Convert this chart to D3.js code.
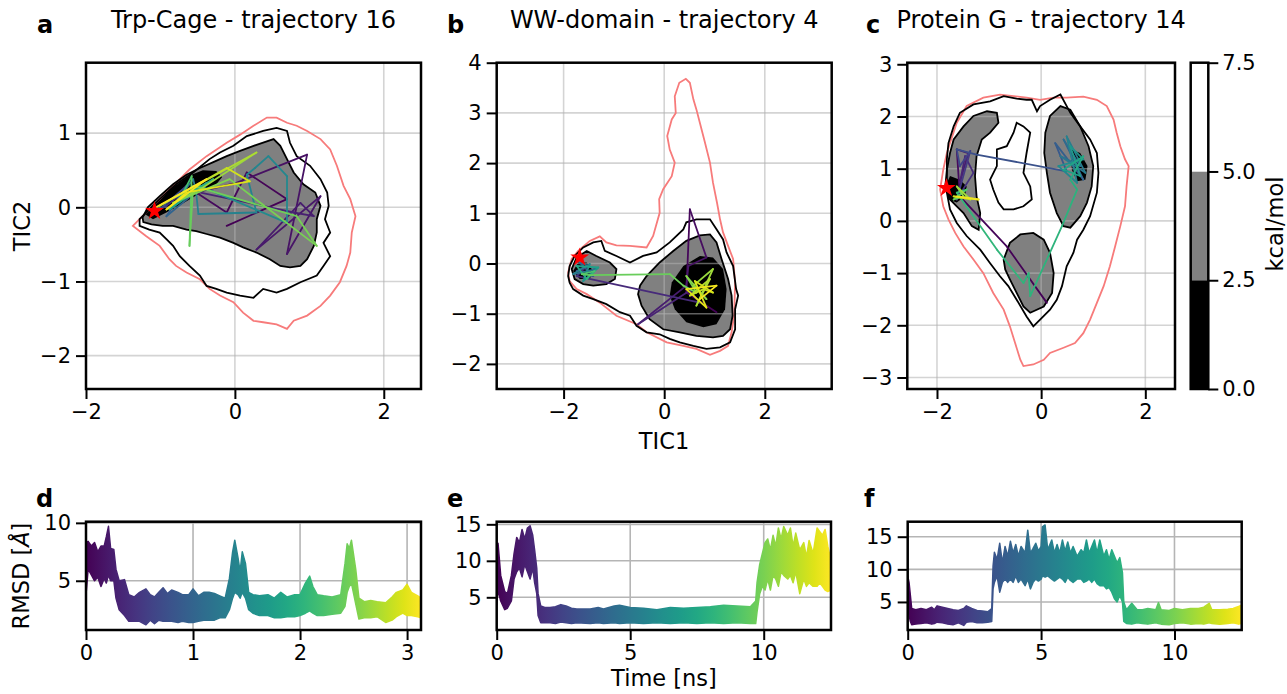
<!DOCTYPE html>
<html>
<head>
<meta charset="utf-8">
<script src="https://cdn.jsdelivr.net/npm/d3@7"></script>
<style>
  body { margin: 0; background: #fff; }
  svg { display: block; }
</style>
</head>
<body>
<svg id="fig" width="1287" height="694"></svg>
<script>
// ---------- free energy maps: contour outlines in TIC coordinates ----------
// Trp-Cage
const trpPink = [[-1.37,-0.25],[-1.24,-0.12],[-1.06,0.06],[-0.83,0.29],[-0.61,0.51],[-0.38,0.69],[-0.11,0.87],[0.07,0.98],[0.25,1.10],[0.43,1.21],[0.56,1.21],[0.70,1.14],[0.83,1.10],[0.97,1.03],[1.15,0.92],[1.28,0.78],[1.37,0.56],[1.46,0.29],[1.55,0.11],[1.62,-0.12],[1.57,-0.34],[1.55,-0.61],[1.50,-0.79],[1.41,-1.01],[1.28,-1.19],[1.15,-1.33],[0.97,-1.46],[0.79,-1.53],[0.70,-1.64],[0.56,-1.58],[0.38,-1.55],[0.25,-1.53],[0.11,-1.42],[-0.02,-1.28],[-0.20,-1.19],[-0.34,-1.10],[-0.47,-0.97],[-0.65,-0.88],[-0.79,-0.79],[-0.88,-0.70],[-1.01,-0.52],[-1.19,-0.39]];
const trpOuter = [[-1.28,-0.16],[-1.19,-0.07],[-1.01,0.11],[-0.79,0.31],[-0.56,0.47],[-0.34,0.65],[-0.20,0.74],[-0.02,0.83],[0.16,0.96],[0.38,1.03],[0.56,1.07],[0.70,1.03],[0.74,0.87],[0.83,0.69],[1.01,0.56],[1.15,0.38],[1.24,0.20],[1.26,0.02],[1.21,-0.16],[1.28,-0.34],[1.19,-0.48],[1.28,-0.66],[1.19,-0.79],[1.10,-0.92],[0.88,-1.01],[0.70,-1.10],[0.56,-1.15],[0.38,-1.10],[0.25,-1.22],[0.07,-1.19],[-0.11,-1.15],[-0.25,-1.10],[-0.38,-1.06],[-0.47,-0.92],[-0.61,-0.79],[-0.74,-0.66],[-0.83,-0.52],[-0.92,-0.43],[-1.01,-0.34],[-1.15,-0.30],[-1.28,-0.25]];
const trpGray = [[-1.24,-0.14],[-1.17,0.00],[-1.01,0.15],[-0.83,0.31],[-0.65,0.44],[-0.47,0.53],[-0.29,0.61],[-0.11,0.69],[0.07,0.76],[0.34,0.86],[0.52,0.92],[0.61,0.83],[0.70,0.65],[0.79,0.47],[0.92,0.31],[1.08,0.20],[1.15,0.02],[1.10,-0.16],[1.10,-0.34],[1.06,-0.52],[0.97,-0.70],[0.88,-0.79],[0.74,-0.81],[0.61,-0.79],[0.47,-0.70],[0.29,-0.61],[0.11,-0.54],[-0.02,-0.48],[-0.20,-0.41],[-0.38,-0.36],[-0.52,-0.32],[-0.65,-0.30],[-0.83,-0.25],[-0.97,-0.25],[-1.12,-0.23],[-1.23,-0.20]];
const trpBlack = [[-1.21,-0.09],[-1.06,0.05],[-0.83,0.27],[-0.61,0.43],[-0.43,0.50],[-0.25,0.49],[-0.17,0.41],[-0.25,0.31],[-0.47,0.19],[-0.70,0.05],[-0.92,-0.07],[-1.10,-0.16]];
// trajectory: [TIC1, TIC2, time ns]
const trpPath = [[-0.11,-0.25,0],[0.70,0.11,0.02],[0.16,0.47,0.05],[-0.11,-0.07,0.07],[-0.52,0.20,0.09],[0.02,0.33,0.11],[0.97,0.71,0.14],[0.70,-0.63,0.16],[1.15,0.15,0.19],[0.29,-0.57,0.21],[0.88,0.06,0.24],[1.06,-0.12,0.26],[0.79,-0.07,0.28],[-0.65,0.24,0.35],[-0.92,0.02,0.5],[-1.01,-0.03,0.65],[-0.65,0.29,0.8],[-0.92,-0.12,0.95],[-0.38,0.33,1.05],[-0.83,0.02,1.15],[-0.56,0.38,1.25],[-0.52,0.20,1.33],[-0.49,-0.09,1.36],[0.29,-0.07,1.38],[0.16,0.44,1.40],[0.27,0.53,1.42],[0.45,0.69,1.44],[0.70,0.42,1.46],[0.70,-0.21,1.48],[-0.47,0.29,1.52],[-0.88,-0.03,1.7],[-0.29,0.38,1.9],[-0.74,0.11,2.1],[-0.58,0.42,2.3],[-0.61,-0.52,2.4],[-0.56,0.29,2.43],[0.83,-0.12,2.46],[1.10,-0.52,2.48],[-0.07,0.38,2.5],[-0.83,0.06,2.55],[-0.47,0.24,2.62],[0.29,0.74,2.7],[-1.01,0.02,2.78],[-0.11,0.53,2.86],[0.20,0.35,2.94],[-0.65,0.20,3.0],[-0.92,-0.03,3.05],[-0.38,0.38,3.1],[-1.06,0.00,3.13]];
const trpStar = [-1.08,-0.05];

// WW-domain
const wwPink = [[-1.91,-0.18],[-1.84,0.09],[-1.71,0.25],[-1.48,0.45],[-1.28,0.54],[-1.15,0.42],[-0.95,0.36],[-0.68,0.35],[-0.35,0.32],[-0.22,0.55],[-0.09,1.01],[-0.10,1.28],[-0.02,1.48],[0.15,1.74],[0.21,2.01],[0.11,2.27],[0.06,2.54],[0.15,2.87],[0.23,3.00],[0.21,3.33],[0.30,3.60],[0.43,3.68],[0.51,3.60],[0.58,3.27],[0.64,3.07],[0.71,2.80],[0.81,2.41],[0.91,2.01],[0.97,1.61],[1.05,1.21],[1.11,0.88],[1.17,0.62],[1.27,0.35],[1.37,0.09],[1.41,-0.38],[1.39,-1.04],[1.34,-1.37],[1.27,-1.64],[1.11,-1.74],[0.91,-1.82],[0.64,-1.70],[0.38,-1.64],[0.05,-1.57],[-0.35,-1.37],[-0.55,-1.21],[-0.95,-1.04],[-1.28,-0.78],[-1.54,-0.61],[-1.74,-0.51],[-1.88,-0.35]];
const wwOuter = [[-1.91,-0.25],[-1.88,-0.05],[-1.78,0.15],[-1.61,0.32],[-1.41,0.42],[-1.25,0.45],[-1.18,0.25],[-0.95,0.15],[-0.68,0.02],[-0.42,0.15],[-0.15,0.22],[0.11,0.42],[0.38,0.68],[0.44,0.82],[0.64,0.88],[0.91,0.88],[1.04,0.68],[1.17,0.48],[1.24,0.22],[1.37,-0.05],[1.43,-0.51],[1.47,-0.64],[1.41,-0.91],[1.41,-1.31],[1.31,-1.57],[1.11,-1.67],[0.84,-1.70],[0.58,-1.64],[0.31,-1.57],[0.11,-1.50],[-0.09,-1.41],[-0.35,-1.37],[-0.55,-1.24],[-0.68,-1.04],[-0.88,-0.97],[-1.15,-0.81],[-1.41,-0.71],[-1.61,-0.64],[-1.81,-0.51],[-1.88,-0.38]];
const wwGrayLeft = [[-1.84,-0.11],[-1.74,0.12],[-1.54,0.25],[-1.35,0.15],[-1.08,0.02],[-0.95,-0.11],[-0.98,-0.31],[-1.15,-0.41],[-1.41,-0.44],[-1.61,-0.41],[-1.78,-0.31]];
const wwGrayRight = [[-0.48,-0.44],[-0.35,-0.25],[-0.09,0.02],[0.18,0.25],[0.44,0.45],[0.71,0.56],[0.91,0.58],[1.04,0.42],[1.14,0.09],[1.27,-0.31],[1.34,-0.64],[1.36,-1.04],[1.31,-1.31],[1.17,-1.44],[0.97,-1.47],[0.64,-1.44],[0.31,-1.37],[-0.02,-1.31],[-0.29,-1.11],[-0.45,-0.84],[-0.52,-0.61]];
const wwBlackLeft = [[-1.81,-0.15],[-1.71,0.02],[-1.54,0.02],[-1.41,-0.15],[-1.48,-0.31],[-1.68,-0.31]];
const wwBlackRight = [[0.15,-0.38],[0.38,-0.05],[0.71,0.15],[0.97,0.12],[1.17,-0.11],[1.24,-0.51],[1.21,-0.91],[1.04,-1.21],[0.78,-1.27],[0.44,-1.17],[0.21,-0.91],[0.11,-0.64]];
const wwPath = [[1.04,-0.97,0],[0.44,-0.58,0.15],[0.51,1.08,0.3],[0.84,0.12,0.5],[0.48,-0.05,0.7],[0.44,-0.44,0.9],[-0.52,-1.21,1.1],[0.51,-0.54,1.3],[0.71,-0.78,1.45],[-1.74,-0.25,1.55],[-1.54,-0.05,2.0],[-1.74,-0.15,2.6],[-1.41,-0.25,3.2],[-1.68,0.02,3.8],[-1.35,-0.11,4.4],[-1.81,-0.21,5.0],[-1.48,-0.01,5.6],[-1.61,-0.35,6.2],[-1.31,-0.08,6.8],[-1.74,-0.05,7.4],[-1.54,-0.31,8.0],[-1.38,-0.15,8.6],[-1.64,-0.21,9.2],[-1.48,-0.23,9.6],[0.11,-0.21,9.7],[0.38,-0.44,9.75],[0.64,-0.58,9.9],[0.44,-0.25,10.1],[0.84,-0.71,10.3],[0.58,-0.44,10.5],[0.97,-0.11,10.65],[0.64,-0.84,10.85],[0.91,-0.31,11.0],[0.51,-0.64,11.2],[0.78,-0.51,11.4],[0.97,-0.58,11.55],[0.61,-0.35,11.75],[0.84,-0.88,11.9],[0.44,-0.51,12.1],[1.04,-0.44,12.3],[0.71,-0.71,12.5]];
const wwStar = [-1.68,0.12];

// Protein G
const pgPink = [[-1.75,1.49],[-1.62,1.88],[-1.43,2.20],[-1.11,2.36],[-0.79,2.42],[-0.53,2.39],[-0.28,2.36],[-0.02,2.32],[0.24,2.36],[0.49,2.36],[0.81,2.38],[1.07,2.32],[1.26,2.20],[1.39,1.94],[1.45,1.69],[1.52,1.43],[1.61,1.18],[1.68,1.05],[1.64,0.66],[1.61,0.28],[1.52,-0.10],[1.42,-0.49],[1.32,-0.87],[1.20,-1.25],[1.07,-1.57],[0.94,-1.89],[0.81,-2.15],[0.65,-2.34],[0.43,-2.43],[0.17,-2.53],[0.05,-2.66],[-0.15,-2.75],[-0.34,-2.78],[-0.40,-2.66],[-0.50,-2.34],[-0.60,-2.02],[-0.72,-1.70],[-0.92,-1.38],[-1.11,-1.00],[-1.30,-0.74],[-1.49,-0.49],[-1.65,-0.23],[-1.78,0.03],[-1.88,0.28],[-1.94,0.60],[-1.88,0.98],[-1.81,1.30]];
const pgOuter = [[-1.81,1.18],[-1.78,1.49],[-1.68,1.81],[-1.56,2.07],[-1.30,2.23],[-0.98,2.29],[-0.72,2.39],[-0.47,2.34],[-0.28,2.32],[-0.18,2.32],[-0.08,2.10],[-0.02,2.20],[0.17,2.32],[0.37,2.42],[0.56,2.07],[0.75,1.81],[0.94,1.56],[1.07,1.30],[1.10,0.92],[1.07,0.54],[0.94,0.09],[0.81,-0.17],[0.69,-0.36],[0.62,-0.61],[0.49,-0.87],[0.40,-1.25],[0.30,-1.51],[0.17,-1.70],[-0.02,-1.89],[-0.15,-2.02],[-0.28,-1.83],[-0.47,-1.51],[-0.63,-1.25],[-0.79,-1.06],[-0.98,-0.81],[-1.17,-0.55],[-1.43,-0.29],[-1.62,-0.04],[-1.75,0.22],[-1.81,0.54]];
const pgHole = [[-0.92,0.60],[-0.98,0.79],[-0.85,1.05],[-0.85,1.37],[-0.66,1.43],[-0.53,1.69],[-0.47,1.88],[-0.34,1.81],[-0.21,1.69],[-0.28,1.30],[-0.34,0.92],[-0.21,0.66],[-0.18,0.41],[-0.34,0.28],[-0.53,0.22],[-0.72,0.22],[-0.82,0.35]];
const pgGrayLeft = [[-1.75,1.30],[-1.68,1.56],[-1.49,1.81],[-1.30,2.01],[-1.04,2.10],[-0.85,2.07],[-0.82,1.88],[-0.98,1.69],[-1.14,1.56],[-1.24,1.24],[-1.27,0.86],[-1.24,0.47],[-1.17,0.15],[-1.20,-0.17],[-1.33,-0.10],[-1.49,0.15],[-1.62,0.28],[-1.75,0.41],[-1.84,0.66],[-1.81,0.98]];
const pgGrayRight = [[0.08,1.69],[0.17,2.01],[0.37,2.20],[0.56,2.13],[0.75,1.81],[0.91,1.43],[1.00,1.05],[0.97,0.66],[0.88,0.35],[0.75,0.09],[0.56,-0.13],[0.43,-0.10],[0.30,0.15],[0.17,0.54],[0.11,0.92],[0.06,1.30]];
const pgGrayBottom = [[-0.72,-0.74],[-0.60,-0.42],[-0.40,-0.26],[-0.15,-0.23],[0.05,-0.36],[0.17,-0.61],[0.24,-1.00],[0.21,-1.38],[0.05,-1.64],[-0.21,-1.76],[-0.34,-1.64],[-0.47,-1.38],[-0.60,-1.12],[-0.69,-0.93]];
const pgBlackLeft = [[-1.84,0.66],[-1.75,0.86],[-1.56,0.79],[-1.43,0.66],[-1.46,0.47],[-1.62,0.35],[-1.78,0.41]];
const pgBlackRight = [[0.56,1.37],[0.75,1.30],[0.89,1.05],[0.85,0.79],[0.69,0.76],[0.59,0.98]];
const pgPath = [[0.11,-1.57,0],[-0.66,-0.49,0.1],[-1.56,0.47,0.2],[-1.62,1.37,0.5],[-1.40,1.30,0.8],[-1.56,0.73,1.1],[-1.46,1.24,1.4],[-1.30,0.92,1.7],[-1.62,0.41,2.0],[-1.36,1.34,2.3],[-1.56,1.05,2.6],[-1.62,1.37,2.9],[-1.24,1.27,3.1],[0.49,0.95,3.25],[0.27,1.49,3.6],[0.81,0.79,3.9],[0.43,1.56,4.2],[0.75,1.05,4.5],[0.37,1.24,4.8],[0.85,0.92,5.1],[0.49,1.62,5.4],[0.69,0.73,5.7],[0.33,1.05,6.0],[0.81,1.18,6.3],[0.56,1.43,6.6],[0.75,0.86,6.9],[0.43,0.98,7.2],[0.81,1.24,7.5],[0.56,0.79,7.8],[0.69,0.60,8.0],[0.40,-0.10,8.05],[-0.21,-1.44,8.1],[-0.24,-1.00,8.12],[-0.34,-1.19,8.15],[-0.85,-0.55,8.2],[-1.62,0.54,8.3],[-1.43,0.60,8.8],[-1.68,0.41,9.4],[-1.49,0.47,10.0],[-1.62,0.66,10.5],[-1.36,0.41,11.0],[-1.68,0.47,11.5],[-1.20,0.41,12.0],[-1.62,0.47,12.5]];
const pgStar = [-1.82,0.63];

// ---------- RMSD time series (upper / lower envelope of the noisy trace) ----------
const trpTime  = [0,0.02,0.05,0.08,0.11,0.14,0.17,0.19,0.21,0.23,0.26,0.28,0.31,0.36,0.40,0.45,0.50,0.56,0.60,0.64,0.68,0.72,0.76,0.80,0.86,0.90,0.96,1.00,1.05,1.10,1.15,1.20,1.25,1.30,1.34,1.37,1.39,1.42,1.44,1.46,1.49,1.52,1.56,1.62,1.70,1.76,1.82,1.88,1.95,2.00,2.05,2.09,2.12,2.16,2.22,2.30,2.38,2.42,2.44,2.46,2.48,2.52,2.55,2.60,2.66,2.72,2.80,2.86,2.90,2.96,3.00,3.04,3.10,3.13];
const trpUpper = [8.3,8.4,8.0,8.3,7.5,8.0,8.0,8.8,9.7,7.8,7.7,6.0,5.0,5.1,3.8,3.6,4.0,4.3,3.8,3.6,4.0,4.4,3.9,4.2,4.0,3.8,3.8,4.3,3.7,4.0,4.0,3.9,3.7,3.5,5.2,7.5,8.5,7.0,5.8,7.5,6.5,4.0,3.8,3.7,3.8,3.5,4.0,3.6,3.8,3.8,4.8,5.4,4.5,3.8,3.7,3.6,3.8,6.5,8.2,7.8,8.5,6.0,3.5,3.2,3.3,3.2,3.1,3.6,4.0,4.2,4.7,4.0,3.7,3.5];
const trpLower = [3.8,6.0,5.5,5.0,5.3,4.5,5.2,4.8,5.5,5.0,5.0,3.5,2.5,2.0,1.5,1.5,1.5,1.2,1.6,1.3,1.6,1.5,1.5,1.5,1.4,1.5,1.4,1.4,1.5,1.6,1.6,1.6,1.8,1.8,2.5,3.5,4.0,3.8,3.5,4.0,3.5,2.5,2.2,2.0,2.0,1.8,1.8,1.9,1.9,2.0,2.2,2.4,2.2,2.0,2.0,2.1,2.2,2.8,4.0,4.5,4.8,3.0,1.7,1.8,1.8,1.9,1.4,1.6,1.9,2.2,2.0,2.0,1.9,1.8];

const wwTime  = [0,0.05,0.15,0.3,0.4,0.55,0.65,0.75,0.85,0.95,1.05,1.15,1.25,1.35,1.42,1.5,1.55,1.65,1.8,2.0,2.2,2.4,2.6,2.8,3.0,3.5,3.8,4.0,4.4,4.6,5.0,5.5,6.0,6.5,7.0,7.5,8.0,8.5,9.0,9.5,9.7,9.75,9.85,9.95,10.05,10.15,10.25,10.35,10.45,10.55,10.65,10.75,10.9,11.0,11.1,11.2,11.35,11.5,11.6,11.7,11.85,12.0,12.1,12.2,12.3,12.4,12.52];
const wwUpper = [12.4,12.4,8.0,5.8,5.5,8.0,11.0,13.2,12.5,14.3,13.0,14.5,14.8,13.5,11.5,9.0,5.5,3.8,3.6,3.6,3.7,4.0,3.8,3.5,3.4,3.4,3.6,3.4,3.8,3.9,3.6,3.5,3.3,3.6,3.5,3.6,3.7,3.9,3.8,3.7,4.5,7.0,9.5,11.0,12.5,13.0,11.5,13.5,12.0,14.5,13.0,14.7,13.5,14.5,12.0,13.8,11.5,12.5,10.5,12.8,11.0,14.5,14.0,13.5,14.3,12.0,10.0];
const wwLower = [4.0,6.0,4.5,3.3,3.5,4.5,7.5,8.5,9.0,7.8,9.5,8.5,7.5,9.0,7.0,5.5,2.5,1.5,1.5,1.5,1.4,1.6,1.5,1.4,1.5,1.4,1.5,1.4,1.5,1.4,1.5,1.4,1.5,1.4,1.5,1.4,1.5,1.4,1.5,1.4,1.4,3.0,5.5,6.5,6.0,7.5,6.0,8.0,7.5,6.5,8.5,8.0,7.5,8.0,7.0,8.5,5.5,7.5,6.5,7.0,6.5,6.5,7.0,6.5,6.0,5.8,6.0];

const pgTime  = [0,0.05,0.1,0.15,0.3,0.5,0.7,0.9,1.0,1.1,1.3,1.5,1.7,1.9,2.1,2.2,2.4,2.6,2.8,3.0,3.15,3.2,3.25,3.35,3.45,3.55,3.65,3.75,3.85,3.95,4.05,4.15,4.25,4.4,4.5,4.6,4.7,4.8,4.9,5.0,5.05,5.15,5.25,5.4,5.5,5.6,5.7,5.8,5.9,6.0,6.1,6.2,6.35,6.5,6.6,6.7,6.8,6.9,7.0,7.1,7.2,7.35,7.45,7.55,7.65,7.75,7.85,7.95,8.05,8.1,8.2,8.4,8.6,8.8,9.0,9.3,9.4,9.5,9.8,10.0,10.3,10.6,10.9,11.1,11.3,11.4,11.7,12.0,12.2,12.4,12.52];
const pgUpper = [9.0,8.0,6.0,4.0,3.8,4.0,3.8,4.2,3.8,4.4,4.2,4.0,3.8,3.7,4.0,4.4,4.0,3.7,3.6,3.5,4.0,10.5,12.6,11.5,14.0,11.0,13.5,12.0,14.3,12.5,13.8,12.0,13.5,12.5,16.0,12.5,13.2,14.0,12.8,13.5,16.5,16.8,13.0,14.5,12.5,13.8,12.5,14.5,12.8,14.2,12.5,13.5,12.0,13.0,12.5,14.5,12.5,13.5,14.5,12.5,14.5,12.0,13.0,11.5,13.0,12.0,11.0,11.8,9.5,5.0,3.8,4.8,3.8,3.8,4.0,3.8,4.9,3.8,3.7,4.0,3.8,4.0,4.0,4.2,4.8,3.8,3.8,3.9,4.0,4.3,4.5];
const pgLower = [5.5,3.0,2.0,1.5,1.6,1.7,1.8,1.6,1.7,1.9,1.8,1.6,1.5,1.8,1.4,1.9,2.0,1.8,1.8,1.9,2.0,7.0,8.0,9.0,6.5,8.0,8.5,8.0,8.5,8.0,9.0,8.0,8.5,7.5,8.5,7.0,8.0,8.5,8.2,8.5,9.0,8.8,9.0,8.5,8.2,8.5,8.8,8.5,8.0,8.8,8.3,8.0,8.5,8.5,8.0,8.2,8.5,8.0,8.5,7.8,7.5,7.5,7.0,7.2,6.5,5.5,5.0,6.0,5.0,2.0,1.7,1.6,1.8,1.7,1.6,1.8,1.7,1.6,1.5,1.7,1.8,1.6,1.7,1.6,1.8,1.7,1.6,1.7,1.8,1.6,1.7];

// ---------- ticks / labels ----------
const trpTicksX = [-2, 0, 2], trpTicksY = [-2, -1, 0, 1];
const wwTicksX = [-2, 0, 2], wwTicksY = [-2, -1, 0, 1, 2, 3, 4];
const pgTicksX = [-2, 0, 2], pgTicksY = [-3, -2, -1, 0, 1, 2, 3];
const cbLevels = [0, 2.5, 5.0, 7.5];
const cbColors = ['#000000', '#808080', '#ffffff'];
const trpTimeTicks = [0, 1, 2, 3], trpRmsdTicks = [5, 10];
const wwTimeTicks = [0, 5, 10], wwRmsdTicks = [5, 10, 15];
const pgTimeTicks = [0, 5, 10], pgRmsdTicks = [5, 10, 15];

const FONT = '"DejaVu Sans", Verdana, sans-serif';
const intFmt = d3.format('d');
const svg = d3.select('#fig');

function styleAxis(g) {
  g.select('.domain').remove();
  g.selectAll('.tick line').attr('stroke', '#000').attr('stroke-width', 2);
  g.selectAll('.tick text').attr('font-size', 21).attr('font-family', FONT).attr('fill', '#000');
}

// ---------- top row: free energy maps ----------
const maps = [
  { id: 'a', title: 'Trp-Cage - trajectory 16', left: 86, right: 421, xd: [-2, 2.5], yd: [-2.45, 1.95],
    tx: trpTicksX, ty: trpTicksY, pink: [trpPink], outer: [trpOuter], gray: [trpGray], black: [trpBlack],
    path: trpPath, star: trpStar, tmax: 3.13 },
  { id: 'b', title: 'WW-domain - trajectory 4', left: 496.7, right: 831.7, xd: [-3.33, 3.33], yd: [-2.5, 4],
    tx: wwTicksX, ty: wwTicksY, pink: [wwPink], outer: [wwOuter], gray: [wwGrayLeft, wwGrayRight], black: [wwBlackLeft, wwBlackRight],
    path: wwPath, star: wwStar, tmax: 12.52 },
  { id: 'c', title: 'Protein G - trajectory 14', left: 907.3, right: 1175, xd: [-2.57, 2.57], yd: [-3.22, 3.03],
    tx: pgTicksX, ty: pgTicksY, pink: [pgPink], outer: [pgOuter, pgHole], gray: [pgGrayLeft, pgGrayRight, pgGrayBottom], black: [pgBlackLeft, pgBlackRight],
    path: pgPath, star: pgStar, tmax: 12.52 }
];
const mapTop = 62.7, mapBottom = 389;

maps.forEach(m => {
  const x = d3.scaleLinear().domain(m.xd).range([m.left, m.right]);
  const y = d3.scaleLinear().domain(m.yd).range([mapBottom, mapTop]);
  const g = svg.append('g');

  svg.append('clipPath').attr('id', 'clip-' + m.id)
    .append('rect').attr('x', m.left).attr('y', mapTop)
    .attr('width', m.right - m.left).attr('height', mapBottom - mapTop);
  const inner = g.append('g').attr('clip-path', `url(#clip-${m.id})`);

  const poly = d3.line().x(d => x(d[0])).y(d => y(d[1])).curve(d3.curveLinearClosed);

  // filled levels
  inner.selectAll('.gray').data(m.gray).join('path')
    .attr('d', poly).attr('fill', '#808080');
  inner.selectAll('.blk').data(m.black).join('path')
    .attr('d', poly).attr('fill', '#000');

  // grid
  inner.selectAll('.gx').data(m.tx).join('line')
    .attr('x1', d => x(d)).attr('x2', d => x(d)).attr('y1', mapTop).attr('y2', mapBottom)
    .attr('stroke', '#b0b0b0').attr('stroke-opacity', 0.55).attr('stroke-width', 1.6);
  inner.selectAll('.gy').data(m.ty).join('line')
    .attr('y1', d => y(d)).attr('y2', d => y(d)).attr('x1', m.left).attr('x2', m.right)
    .attr('stroke', '#b0b0b0').attr('stroke-opacity', 0.55).attr('stroke-width', 1.6);

  // contour lines
  inner.append('g').selectAll('path').data(m.pink).join('path')
    .attr('d', poly).attr('fill', 'none').attr('stroke', '#f77b7b').attr('stroke-width', 1.8);
  inner.append('g').selectAll('path').data(m.outer).join('path')
    .attr('d', poly).attr('fill', 'none').attr('stroke', '#000').attr('stroke-width', 1.8);
  inner.append('g').selectAll('path').data(m.gray).join('path')
    .attr('d', poly).attr('fill', 'none').attr('stroke', '#000').attr('stroke-width', 1.8);

  // trajectory coloured by time
  const segs = d3.pairs(m.path);
  inner.append('g').selectAll('line').data(segs).join('line')
    .attr('x1', d => x(d[0][0])).attr('y1', d => y(d[0][1]))
    .attr('x2', d => x(d[1][0])).attr('y2', d => y(d[1][1]))
    .attr('stroke', d => d3.interpolateViridis((d[0][2] + d[1][2]) / 2 / m.tmax))
    .attr('stroke-width', 1.8).attr('stroke-linecap', 'round');

  // starting structure
  inner.append('path')
    .attr('d', d3.symbol(d3.symbolStar, 110)())
    .attr('transform', `translate(${x(m.star[0])},${y(m.star[1])})`)
    .attr('fill', '#ff0000');

  // axes
  g.append('g').attr('transform', `translate(0,${mapBottom})`)
    .call(d3.axisBottom(x).tickValues(m.tx).tickFormat(intFmt).tickSize(10).tickPadding(5))
    .call(styleAxis);
  g.append('g').attr('transform', `translate(${m.left},0)`)
    .call(d3.axisLeft(y).tickValues(m.ty).tickFormat(intFmt).tickSize(10).tickPadding(5))
    .call(styleAxis);

  g.append('rect').attr('x', m.left).attr('y', mapTop)
    .attr('width', m.right - m.left).attr('height', mapBottom - mapTop)
    .attr('fill', 'none').attr('stroke', '#000').attr('stroke-width', 2.5);

  g.append('text').attr('x', (m.left + m.right) / 2).attr('y', 28)
    .attr('text-anchor', 'middle').attr('font-family', FONT).attr('font-size', 24)
    .text(m.title);
});

// colorbar
{
  const cx0 = 1190.7, cx1 = 1208.3;
  const cy = d3.scaleLinear().domain([0, 7.5]).range([mapBottom, mapTop]);
  const cb = svg.append('g');
  cb.selectAll('rect.band').data(d3.pairs(cbLevels)).join('rect')
    .attr('x', cx0).attr('width', cx1 - cx0)
    .attr('y', d => cy(d[1])).attr('height', d => cy(d[0]) - cy(d[1]))
    .attr('fill', (d, i) => cbColors[i]);
  cb.append('rect').attr('x', cx0).attr('y', mapTop).attr('width', cx1 - cx0).attr('height', mapBottom - mapTop)
    .attr('fill', 'none').attr('stroke', '#000').attr('stroke-width', 2.5);
  cb.append('g').attr('transform', `translate(${cx1},0)`)
    .call(d3.axisRight(cy).tickValues(cbLevels).tickFormat(d3.format('.1f')).tickSize(10).tickPadding(4))
    .call(styleAxis);
  cb.append('text').attr('transform', 'translate(1283,224) rotate(-90)')
    .attr('text-anchor', 'middle').attr('font-family', FONT).attr('font-size', 22.5)
    .text('kcal/mol');
}

// ---------- bottom row: RMSD ----------
const rmsd = [
  { id: 'd', left: 86, right: 421, td: [0, 3.13], yd: [0.75, 10.1], time: trpTime, up: trpUpper, lo: trpLower,
    tx: trpTimeTicks, ty: trpRmsdTicks },
  { id: 'e', left: 496.7, right: 831, td: [0, 12.52], yd: [0.52, 15.36], time: wwTime, up: wwUpper, lo: wwLower,
    tx: wwTimeTicks, ty: wwRmsdTicks },
  { id: 'f', left: 907.7, right: 1241.7, td: [0, 12.52], yd: [0.7, 17.3], time: pgTime, up: pgUpper, lo: pgLower,
    tx: pgTimeTicks, ty: pgRmsdTicks }
];
const rTop = 521.7, rBottom = 630;
const defs = svg.append('defs');

rmsd.forEach(r => {
  const x = d3.scaleLinear().domain(r.td).range([r.left, r.right]);
  const y = d3.scaleLinear().domain(r.yd).range([rBottom, rTop]);
  const g = svg.append('g');

  const tEnd = d3.max(r.time);
  const grad = defs.append('linearGradient').attr('id', 'grad-' + r.id)
    .attr('gradientUnits', 'userSpaceOnUse')
    .attr('x1', x(0)).attr('x2', x(tEnd)).attr('y1', 0).attr('y2', 0);
  d3.range(0, 1.0001, 0.05).forEach(o => {
    grad.append('stop').attr('offset', o).attr('stop-color', d3.interpolateViridis(o));
  });

  svg.append('clipPath').attr('id', 'clip-' + r.id)
    .append('rect').attr('x', r.left).attr('y', rTop)
    .attr('width', r.right - r.left).attr('height', rBottom - rTop);

  g.selectAll('.gx').data(r.tx).join('line')
    .attr('x1', d => x(d)).attr('x2', d => x(d)).attr('y1', rTop).attr('y2', rBottom)
    .attr('stroke', '#b5b5b5').attr('stroke-width', 1.6);
  g.selectAll('.gy').data(r.ty).join('line')
    .attr('y1', d => y(d)).attr('y2', d => y(d)).attr('x1', r.left).attr('x2', r.right)
    .attr('stroke', '#b5b5b5').attr('stroke-width', 1.6);

  const band = d3.area()
    .x((d, i) => x(r.time[i]))
    .y0((d, i) => y(r.lo[i]))
    .y1((d, i) => y(r.up[i]));
  g.append('path').attr('clip-path', `url(#clip-${r.id})`)
    .attr('d', band(r.time))
    .attr('fill', `url(#grad-${r.id})`)
    .attr('stroke', `url(#grad-${r.id})`).attr('stroke-width', 1.5).attr('stroke-linejoin', 'round');

  g.append('g').attr('transform', `translate(0,${rBottom})`)
    .call(d3.axisBottom(x).tickValues(r.tx).tickFormat(intFmt).tickSize(10).tickPadding(5))
    .call(styleAxis);
  g.append('g').attr('transform', `translate(${r.left},0)`)
    .call(d3.axisLeft(y).tickValues(r.ty).tickFormat(intFmt).tickSize(10).tickPadding(5))
    .call(styleAxis);
  g.append('rect').attr('x', r.left).attr('y', rTop)
    .attr('width', r.right - r.left).attr('height', rBottom - rTop)
    .attr('fill', 'none').attr('stroke', '#000').attr('stroke-width', 2.5);
});

// ---------- labels ----------
const label = (x, y, txt, opts = {}) => svg.append('text')
  .attr('x', x).attr('y', y).attr('font-family', FONT)
  .attr('font-size', opts.size || 22.5).attr('font-weight', opts.weight || 'normal')
  .attr('text-anchor', opts.anchor || 'start')
  .attr('transform', opts.rotate ? `rotate(-90,${x},${y})` : null)
  .text(txt);

[['a', 37, 33], ['b', 447, 33], ['c', 866, 33], ['d', 36, 507], ['e', 447, 507], ['f', 864, 507]]
  .forEach(([t, x, y]) => label(x, y, t, { size: 24, weight: 'bold' }));

label(664, 449, 'TIC1', { anchor: 'middle' });
label(30, 226, 'TIC2', { anchor: 'middle', rotate: true });
label(664, 686, 'Time [ns]', { anchor: 'middle' });
const rl = label(29, 576, 'RMSD [', { anchor: 'middle', rotate: true });
rl.append('tspan').attr('font-style', 'italic').text('Å');
rl.append('tspan').text(']');
</script>
</body>
</html>
